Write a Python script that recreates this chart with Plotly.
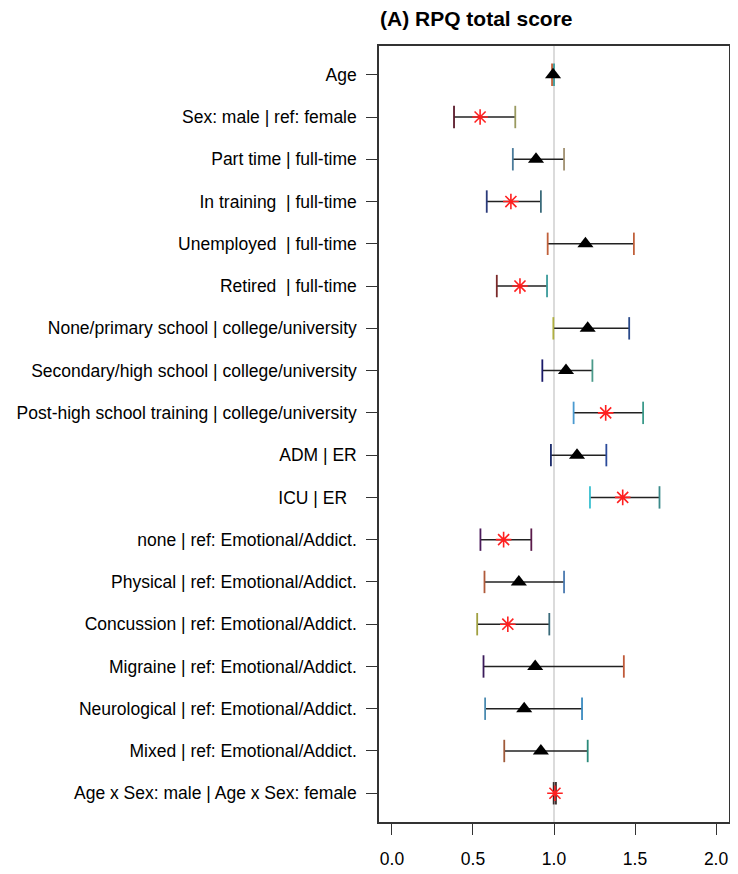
import plotly.graph_objects as go

# --- DATA ---
labels = [
    "Age",
    "Sex: male | ref: female",
    "Part time | full-time",
    "In training \u00a0| full-time",
    "Unemployed \u00a0| full-time",
    "Retired \u00a0| full-time",
    "None/primary school | college/university",
    "Secondary/high school | college/university",
    "Post-high school training | college/university",
    "ADM | ER",
    "ICU | ER\u00a0\u00a0",
    "none | ref: Emotional/Addict.",
    "Physical | ref: Emotional/Addict.",
    "Concussion | ref: Emotional/Addict.",
    "Migraine | ref: Emotional/Addict.",
    "Neurological | ref: Emotional/Addict.",
    "Mixed | ref: Emotional/Addict.",
    "Age x Sex: male | Age x Sex: female",
]
estimate = [0.994, 0.544, 0.889, 0.734, 1.194, 0.790, 1.208, 1.074, 1.319,
            1.142, 1.424, 0.689, 0.783, 0.715, 0.884, 0.816, 0.919, 1.006]
ci_low = [0.988, 0.383, 0.746, 0.585, 0.961, 0.647, 0.996, 0.928, 1.121,
          0.981, 1.222, 0.546, 0.571, 0.526, 0.565, 0.575, 0.693, 0.998]
ci_high = [1.000, 0.761, 1.062, 0.919, 1.493, 0.957, 1.464, 1.237, 1.550,
           1.323, 1.651, 0.860, 1.062, 0.971, 1.431, 1.173, 1.208, 1.012]
significant = [False, True, False, True, False, True, False, False, True,
               False, True, True, False, True, False, False, False, True]
x_ticks = [0.0, 0.5, 1.0, 1.5, 2.0]

# cap colours (random-ish colours of the original R plot)
low_cap_col = ["#c0603a", "#5a1a2a", "#4a7a9a", "#2a3a7a", "#c0603a", "#7a2a2a",
               "#b0b040", "#1a1a6a", "#4a9ad0", "#1a2a6a", "#3ac0d0", "#4a1a5a",
               "#b05a3a", "#a0a040", "#3a1a5a", "#4a8ab0", "#a05a3a", "#3a2a2a"]
high_cap_col = ["#3a9a9a", "#9a9a60", "#a09070", "#3a6a7a", "#c0603a", "#3a9a9a",
                "#2a4a8a", "#4a9a8a", "#3a9a8a", "#2a4a9a", "#3a8a8a", "#5a1a4a",
                "#4a7ab0", "#3a6a7a", "#c05a3a", "#3a8ac0", "#2a8a7a", "#3a2a2a"]

rows = list(range(1, len(labels) + 1))
FONT = "Liberation Sans, Arial, sans-serif"


def fig_forest():
    fig = go.Figure()

    # reference line at 1
    fig.add_shape(
        dict(type="line", x0=1, x1=1, y0=0, y1=1, yref="paper",
             line=dict(color="#cfcfcf", width=1.5)),
        layer="below",
    )

    # whiskers
    fig.add_trace(
        go.Scatter(
            x=estimate,
            y=rows,
            mode="markers",
            marker=dict(size=1, color="rgba(0,0,0,0)"),
            error_x=dict(
                type="data",
                symmetric=False,
                array=[h - e for h, e in zip(ci_high, estimate)],
                arrayminus=[e - l for e, l in zip(estimate, ci_low)],
                color="#222222",
                thickness=1.5,
                width=0,
            ),
            showlegend=False,
            hoverinfo="skip",
        )
    )

    # coloured caps
    fig.add_trace(
        go.Scatter(
            x=ci_low + ci_high,
            y=rows + rows,
            mode="markers",
            marker=dict(symbol="line-ns", size=16,
                        line=dict(color=low_cap_col + high_cap_col, width=1.8)),
            showlegend=False,
            hoverinfo="skip",
        )
    )

    # point estimates
    tri_x = [e for e, s in zip(estimate, significant) if not s]
    tri_y = [r for r, s in zip(rows, significant) if not s]
    ast_x = [e for e, s in zip(estimate, significant) if s]
    ast_y = [r for r, s in zip(rows, significant) if s]
    fig.add_trace(
        go.Scatter(
            x=tri_x, y=tri_y, mode="markers",
            marker=dict(symbol="triangle-up", size=14, color="black"),
            showlegend=False,
        )
    )
    fig.add_trace(
        go.Scatter(
            x=ast_x, y=ast_y, mode="markers",
            marker=dict(symbol="asterisk-open", size=13, color="#ff2020",
                        line=dict(color="#ff2020", width=1.6)),
            showlegend=False,
        )
    )

    axis_style = dict(
        ticks="outside",
        ticklen=11,
        tickcolor="#333",
        tickwidth=1.3,
        showgrid=False,
        zeroline=False,
        showline=True,
        linecolor="#333",
        linewidth=1.5,
        mirror=True,
    )

    # page body has an 8px margin, so the figure is shifted accordingly
    fig.update_layout(
        width=730,
        height=866,
        plot_bgcolor="white",
        paper_bgcolor="white",
        margin=dict(l=371, r=9, t=38, b=52, autoexpand=False),
        font=dict(family=FONT, size=17.5, color="black"),
        title=dict(
            text="<b>(A) RPQ total score</b>",
            x=372 / 730,
            xanchor="left",
            y=1 - 11 / 866,
            yanchor="middle",
            font=dict(size=21, family=FONT),
        ),
        xaxis=dict(
            range=[-0.08, 2.08],
            tickvals=x_ticks,
            ticktext=["%.1f" % t for t in x_ticks],
            ticklabelstandoff=9,
            **axis_style,
        ),
        yaxis=dict(
            range=[18.68, 0.32],
            tickvals=rows,
            ticktext=labels,
            ticklabelstandoff=6,
            **axis_style,
        ),
    )
    return fig


if __name__ == "__main__":
    fig = fig_forest()
    fig.write_html("out.html")
